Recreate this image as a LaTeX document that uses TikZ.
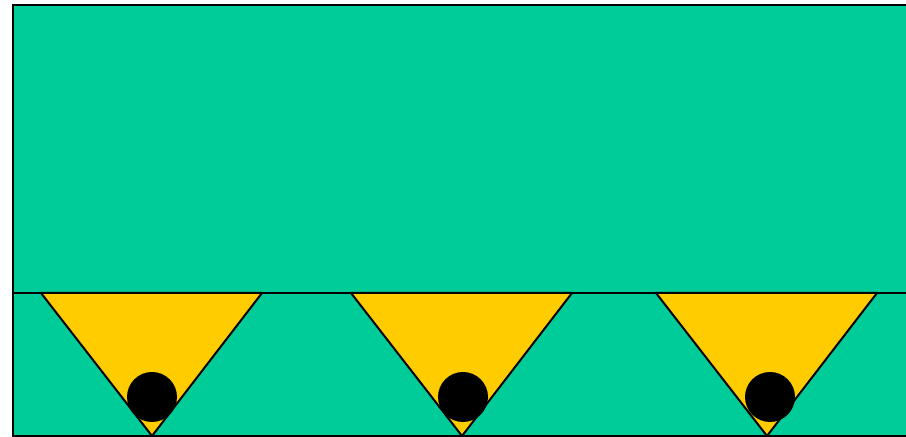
\documentclass[tikz,border=0pt]{standalone}
\usetikzlibrary{positioning}
\definecolor{plate}{RGB}{0,204,153}
\definecolor{cup}{RGB}{255,204,0}
\tikzset{wedge/.style={fill=cup,draw=black,line width=1pt,line join=round},
  ball/.style={fill=black}}

\begin{document}
\begin{tikzpicture}[x=0.5pt,y=-0.5pt]
  \useasboundingbox (0,0) rectangle (906,437);
  \clip (0,0) rectangle (906,437);
  \draw[fill=plate,line width=1pt] (13,5) rectangle (912,436);
  \draw[line width=1pt] (13,293) -- (912,293);

  \draw[wedge] (41,293) -- (262,293) -- (152,436) -- cycle;
  \fill[ball] (152,397) circle (25);

  \draw[wedge] (351,293) -- (572,293) -- (462,436) -- cycle;
  \fill[ball] (463,397) circle (25);

  \draw[wedge] (656,293) -- (877,293) -- (767,436) -- cycle;
  \fill[ball] (770,397) circle (25);
\end{tikzpicture}
\end{document}
